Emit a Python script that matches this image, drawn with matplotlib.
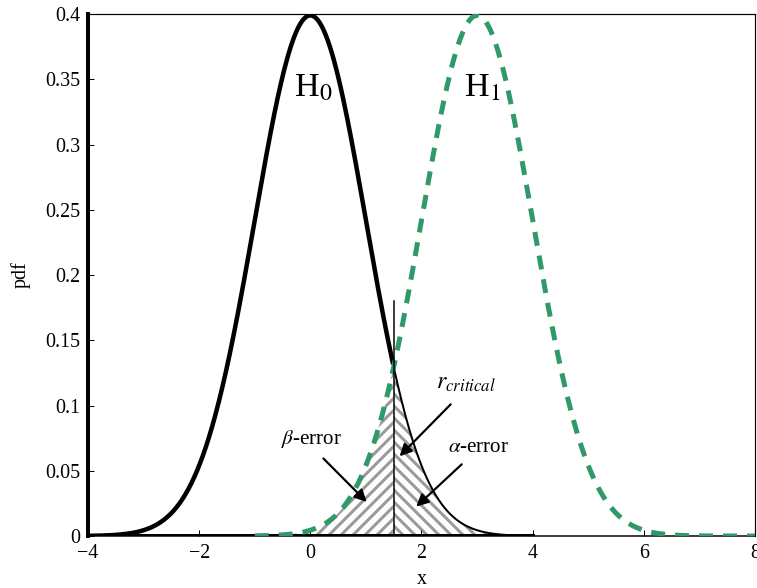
import matplotlib
matplotlib.use("Agg")
import matplotlib.pyplot as plt
import numpy as np

# distribution parameters
h0_mean, h0_sd = 0.0, 1.0
h1_mean, h1_sd = 3.0, 1.0
h0_range = [-4.0, 4.0]
h1_range = [-1.0, 8.0]
r_critical = 1.5
r_line_top = 0.18

xticks = [-4, -2, 0, 2, 4, 6, 8]
xtick_labels = ["\u22124", "\u22122", "0", "2", "4", "6", "8"]
yticks = [0, 0.05, 0.1, 0.15, 0.2, 0.25, 0.3, 0.35, 0.4]
ytick_labels = ["0", "0.05", "0.1", "0.15", "0.2", "0.25", "0.3", "0.35", "0.4"]

GREEN = "#2f9a68"
HATCH_GRAY = "#9a9a9a"


def pdf(x, mu, sd):
    return np.exp(-0.5 * ((x - mu) / sd) ** 2) / (sd * np.sqrt(2 * np.pi))


plt.rcParams["font.family"] = ["Liberation Serif", "DejaVu Serif"]
plt.rcParams["mathtext.fontset"] = "stix"
plt.rcParams["hatch.linewidth"] = 3.0

fig = plt.figure(figsize=(757 / 72, 588 / 72), dpi=72)
ax = fig.add_axes([0.1162, 0.0884, 0.8812, 0.8878])

x0 = np.linspace(h0_range[0], h0_range[1], 600)
x1 = np.linspace(h1_range[0], h1_range[1], 600)
y0 = pdf(x0, h0_mean, h0_sd)
y1 = pdf(x1, h1_mean, h1_sd)

# hatched error regions
left = x1 <= r_critical
ax.fill_between(x1[left], 0, y1[left], facecolor="white", edgecolor=HATCH_GRAY,
                hatch="//", linewidth=0, zorder=1)
right = x0 >= r_critical
ax.fill_between(x0[right], 0, y0[right], facecolor="white", edgecolor=HATCH_GRAY,
                hatch="\\\\", linewidth=0, zorder=1)

# H0: thick up to the critical value, thin tail after
ax.plot(x0[~right], y0[~right], color="black", lw=4.5, solid_capstyle="butt", zorder=3)
ax.plot(x0[right], y0[right], color="black", lw=2, zorder=3)
ax.plot(h0_range, [0, 0], color="black", lw=4, zorder=3)

# H1 dashed
ax.plot(x1, y1, color=GREEN, lw=5, dashes=(2.8, 2.0), zorder=4)

# critical line
ax.plot([r_critical, r_critical], [0, r_line_top], color="black", lw=1.5, zorder=5)

# labels
ax.text(0.05, 0.343, "H$_0$", fontsize=34, ha="center", va="center")
ax.text(3.1, 0.343, "H$_1$", fontsize=34, ha="center", va="center")
ax.text(2.8, 0.117, r"$r_{critical}$", fontsize=24, ha="center", va="center")
ax.text(0.02, 0.074, r"$\beta$-error", fontsize=21, ha="center", va="center")
ax.text(3.02, 0.068, r"$\alpha$-error", fontsize=21, ha="center", va="center")

arrow = dict(arrowstyle="-|>,head_length=1.0,head_width=0.5", color="black", lw=2.2)
ax.annotate("", xy=(1.58, 0.060), xytext=(2.55, 0.102), arrowprops=arrow, zorder=6)
ax.annotate("", xy=(1.04, 0.025), xytext=(0.21, 0.0605), arrowprops=arrow, zorder=6)
ax.annotate("", xy=(1.88, 0.0215), xytext=(2.75, 0.056), arrowprops=arrow, zorder=6)

ax.set_xlim(-4, 8)
ax.set_ylim(0, 0.4)
ax.set_xticks(xticks)
ax.set_xticklabels(xtick_labels)
ax.set_yticks(yticks)
ax.set_yticklabels(ytick_labels)
ax.tick_params(direction="in", length=6, labelsize=20, width=1, pad=8)
ax.set_xlabel("x", fontsize=20, labelpad=7)
ax.set_ylabel("pdf", fontsize=20, labelpad=14)

ax.spines["left"].set_linewidth(4)
ax.spines["bottom"].set_linewidth(1.5)
ax.spines["top"].set_linewidth(1.2)
ax.spines["right"].set_linewidth(1.2)

fig.savefig("out.png", dpi=72)
